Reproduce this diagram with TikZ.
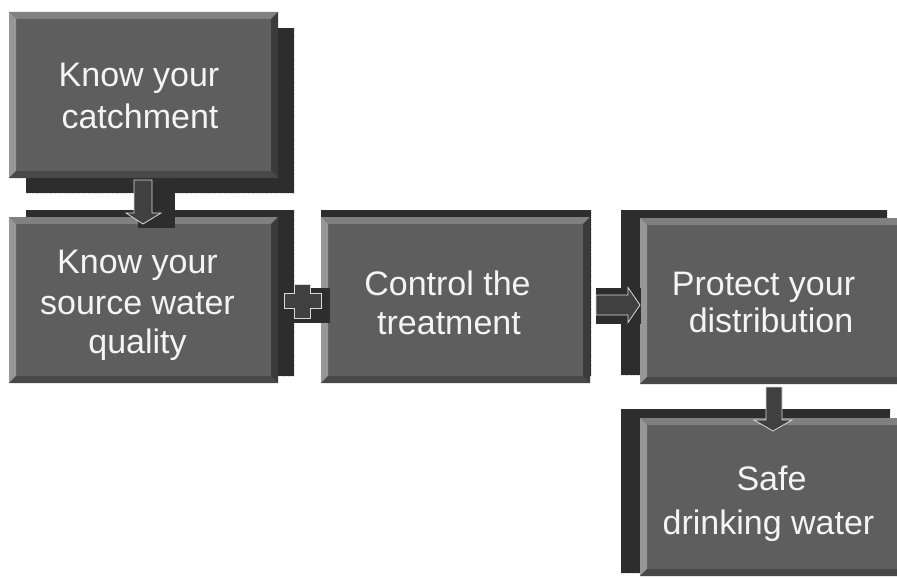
\documentclass[tikz,border=0pt]{standalone}
\usepackage{fontspec}
\setmainfont{Liberation Sans}
\usetikzlibrary{calc}
\definecolor{facec}{HTML}{5E5E5E}
\definecolor{bevtopc}{HTML}{808080}
\definecolor{bevleftc}{HTML}{979797}
\definecolor{bevrightc}{HTML}{3B3B3B}
\definecolor{bevbotc}{HTML}{484848}
\definecolor{shadowc}{HTML}{2D2D2D}
\definecolor{arrowc}{HTML}{404040}
\definecolor{arrowline}{HTML}{D8D8D8}
\definecolor{textc}{HTML}{F4F4F4}
\tikzset{
  boxface/.style={inner sep=0pt, outer sep=0pt, fill=facec},
  shadowbox/.style={fill=shadowc},
  shadowedge/.style={draw=white!85!black, densely dotted, line width=0.7pt},
  blockarrow/.style={fill=arrowc, draw=arrowline, line width=0.8pt, line join=miter},
  lbl/.style={text=textc, anchor=base, inner sep=0pt, font=\fontsize{34}{41}\selectfont},
}
\newcommand{\mybevbox}[5]{%
  \node[boxface, minimum width={(#4-#2)*1pt}, minimum height={(#5-#3)*1pt}] (#1) at ({(#2+#4)/2},{(#3+#5)/2}) {};
  \fill[bevtopc] (#1.north west) -- (#1.north east) -- ([shift={(-7,7)}]#1.north east) -- ([shift={(7,7)}]#1.north west) -- cycle;
  \fill[bevleftc] (#1.north west) -- ([shift={(7,7)}]#1.north west) -- ([shift={(7,-7)}]#1.south west) -- (#1.south west) -- cycle;
  \fill[bevrightc] (#1.north east) -- (#1.south east) -- ([shift={(-7,-7)}]#1.south east) -- ([shift={(-7,7)}]#1.north east) -- cycle;
  \fill[bevbotc] (#1.south west) -- (#1.south east) -- ([shift={(-7,-7)}]#1.south east) -- ([shift={(7,-7)}]#1.south west) -- cycle;
}
\newcommand{\myshadow}[4]{%
  \fill[shadowbox] (#1,#2) rectangle (#3,#4);
  \draw[shadowedge] (#3,#2) -- (#3,#4) -- (#1,#4);
}
\begin{document}
\begin{tikzpicture}[x=1pt,y=-1pt]
\useasboundingbox (0,0) rectangle (897,578);
\clip (0,0) rectangle (897,578);

% Box 1
\myshadow{26}{28}{294}{193}
\mybevbox{b1}{9}{12}{278}{178}
\node[lbl] (t1a) at (139,87) {Know your};
\node[lbl] (t1b) at (140,128) {catchment};

% Box 2
\myshadow{26}{210}{294}{376}
\mybevbox{b2}{9}{217}{278}{383}
\node[lbl] (t2a) at (137.5,273) {Know your};
\node[lbl] (t2b) at (137.5,314) {source water};
\node[lbl] (t2c) at (137.5,353) {quality};

% Arrow 1 (b1 -> b2)
\coordinate (a1s) at ($(b1.south)+(-0.5,2)$);
\coordinate (a1t) at ($(b2.north)+(-0.5,7)$);
\fill[shadowc] ($(a1s)+(-5,-2)$) rectangle ($(a1t)+(32,4)$);
\draw[blockarrow] ($(a1s)+(-9,0)$) -- ($(a1s)+(9,0)$) -- ($(a1t)+(9,-11)$) -- ($(a1t)+(18,-11)$) -- (a1t) -- ($(a1t)+(-17,-11)$) -- ($(a1t)+(-9,-11)$) -- cycle;

% Box 3
\myshadow{321}{210}{591}{376}
\mybevbox{b3}{321}{217}{590}{383}
\node[lbl] (t3a) at (447.5,295) {Control the};
\node[lbl] (t3b) at (449,334) {treatment};

% Plus sign (b2 + b3)
\coordinate (pc) at ($(b3.west)+(-18.5,1)$);
\fill[shadowc] ($(pc)+(-12,-13)$) rectangle ($(pc)+(27.5,22)$);
\draw[blockarrow] ($(pc)+(-8,-17)$) -- ($(pc)+(8,-17)$) -- ($(pc)+(8,-7.5)$) -- ($(pc)+(18.5,-7.5)$) -- ($(pc)+(18.5,7.5)$) -- ($(pc)+(8,7.5)$) -- ($(pc)+(8,17)$) -- ($(pc)+(-8,17)$) -- ($(pc)+(-8,7.5)$) -- ($(pc)+(-18.5,7.5)$) -- ($(pc)+(-18.5,-7.5)$) -- ($(pc)+(-8,-7.5)$) -- cycle;

% Box 4
\myshadow{621}{210}{887}{375}
\mybevbox{b4}{640}{218}{910}{384}
\node[lbl] (t4a) at (763.5,295) {Protect your};
\node[lbl] (t4b) at (771,332) {distribution};

% Arrow 3 (b3 -> b4)
\coordinate (a3s) at ($(b3.east)+(6,5)$);
\coordinate (a3t) at ($(b4.west)+(0,4)$);
\fill[shadowc] ($(a3s)+(0,-17)$) rectangle ($(a3t)+(1,19)$);
\draw[blockarrow] ($(a3s)+(0,-10)$) -- ($(a3t)+(-12,-10)$) -- ($(a3t)+(-12,-17.5)$) -- (a3t) -- ($(a3t)+(-12,17.5)$) -- ($(a3t)+(-12,10)$) -- ($(a3s)+(0,10)$) -- cycle;

% Box 5
\myshadow{621}{409}{890}{573}
\mybevbox{b5}{640}{418}{910}{576}
\node[lbl] (t5a) at (771.5,490.5) {Safe};
\node[lbl] (t5b) at (768.5,534) {drinking water};

% Arrow 4 (b4 -> b5)
\coordinate (a4s) at ($(b4.south)+(-1,3)$);
\coordinate (a4t) at ($(b5.north)+(-2,13)$);
\draw[blockarrow] ($(a4s)+(-8,0)$) -- ($(a4s)+(8,0)$) -- ($(a4t)+(9,-11)$) -- ($(a4t)+(19,-11)$) -- (a4t) -- ($(a4t)+(-19,-11)$) -- ($(a4t)+(-7,-11)$) -- cycle;
\end{tikzpicture}
\end{document}
